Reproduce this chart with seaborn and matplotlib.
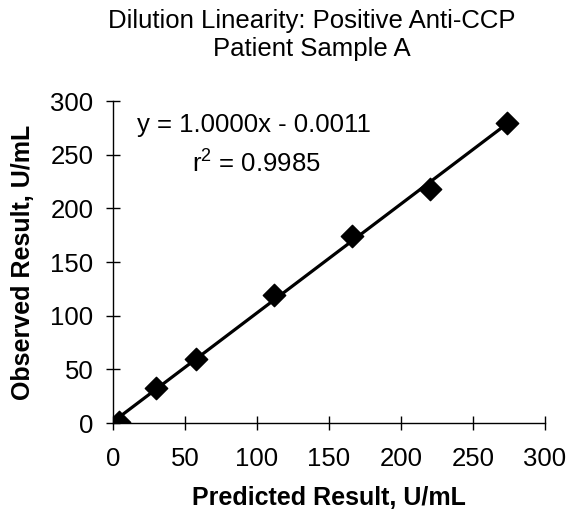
import numpy as np
import pandas as pd
import seaborn as sns
import matplotlib
matplotlib.use("Agg")
import matplotlib.pyplot as plt

# values
predicted = [4, 30, 58, 112, 166, 220, 274]
observed = [1, 33, 60, 119, 174, 218, 280]
x_ticks = [0, 50, 100, 150, 200, 250, 300]
y_ticks = [0, 50, 100, 150, 200, 250, 300]
title = "Dilution Linearity: Positive Anti-CCP\nPatient Sample A"
equation = "y = 1.0000x - 0.0011"
r_squared = "r$^2$ = 0.9985"


def make_plot(filename):
    sns.set_style("white")
    plt.rcParams["font.family"] = ["Liberation Sans", "DejaVu Sans"]
    plt.rcParams["mathtext.fontset"] = "custom"
    plt.rcParams["mathtext.rm"] = "Liberation Sans"
    plt.rcParams["text.color"] = "black"
    plt.rcParams["axes.labelcolor"] = "black"
    data = pd.DataFrame({"predicted": predicted, "observed": observed})

    fig = plt.figure(figsize=(5.7, 5.16), dpi=100)
    ax = fig.add_axes([0.198, 0.180, 0.758, 0.624])

    sns.regplot(data=data, x="predicted", y="observed", ax=ax, ci=None,
                marker="D", color="black", truncate=True,
                scatter_kws={"s": 130, "alpha": 1, "zorder": 3},
                line_kws={"linewidth": 2.3})

    ax.set_xlim(0, 300)
    ax.set_ylim(0, 300)
    ax.set_xticks(x_ticks)
    ax.set_yticks(y_ticks)
    ax.tick_params(bottom=True, left=True, direction="inout", length=10,
                   width=1, colors="black", labelsize=18.5)
    ax.tick_params(axis="x", pad=12)
    ax.tick_params(axis="y", pad=9)
    for side in ["top", "right"]:
        ax.spines[side].set_visible(False)
    for side in ["left", "bottom"]:
        ax.spines[side].set_color("black")
        ax.spines[side].set_linewidth(1)

    ax.set_xlabel("Predicted Result, U/mL", fontsize=18, fontweight="bold",
                  labelpad=11)
    ax.set_ylabel("Observed Result, U/mL", fontsize=18, fontweight="bold",
                  labelpad=11)
    fig.suptitle(title, x=0.547, y=0.982, va="top", fontsize=18.5,
                 linespacing=1.2)

    ax.text(17, 278, equation, fontsize=18.5, va="center")
    ax.text(55, 243, r_squared, fontsize=18.5, va="center")

    plt.savefig(filename, dpi=100)


make_plot("out.png")
